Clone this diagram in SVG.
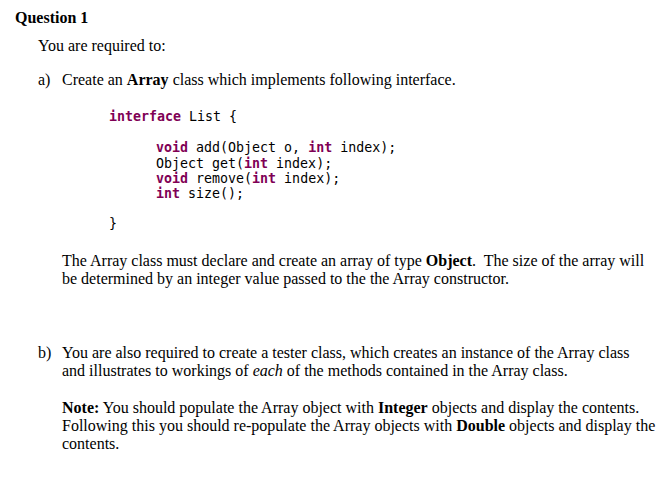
<svg xmlns="http://www.w3.org/2000/svg" width="669" height="479" viewBox="0 0 669 479">
<style>
.t{font-family:"Liberation Serif",serif;font-size:16px;fill:#000}
.c{font-family:"DejaVu Sans Mono",monospace;font-size:13.3px;fill:#000}
.k{fill:#7f0055;font-weight:bold}
</style>
<rect width="669" height="479" fill="#fff"/>
<text class="t" x="15" y="23" font-weight="bold">Question 1</text>
<text class="t" x="38" y="51">You are required to:</text>
<text class="t" x="38" y="85">a)</text>
<text class="t" x="62" y="85">Create an <tspan font-weight="bold">Array</tspan> class which implements following interface.</text>
<text class="c" x="109" y="121"><tspan class="k">interface</tspan> List {</text>
<text class="c" x="156" y="152"><tspan class="k">void</tspan> add(Object o, <tspan class="k">int</tspan> index);</text>
<text class="c" x="156" y="168">Object get(<tspan class="k">int</tspan> index);</text>
<text class="c" x="156" y="183"><tspan class="k">void</tspan> remove(<tspan class="k">int</tspan> index);</text>
<text class="c" x="156" y="198"><tspan class="k">int</tspan> size();</text>
<text class="c" x="109" y="228">}</text>
<text class="t" x="62" y="266">The Array class must declare and create an array of type <tspan font-weight="bold">Object</tspan>.&#160; The size of the array will</text>
<text class="t" x="62" y="284">be determined by an integer value passed to the the Array constructor.</text>
<text class="t" x="38" y="358">b)</text>
<text class="t" x="62" y="358">You are also required to create a tester class, which creates an instance of the Array class</text>
<text class="t" x="62" y="376">and illustrates to workings of <tspan font-style="italic">each</tspan> of the methods contained in the Array class.</text>
<text class="t" x="62" y="413"><tspan font-weight="bold">Note:</tspan> You should populate the Array object with <tspan font-weight="bold">Integer</tspan> objects and display the contents.</text>
<text class="t" x="62" y="431">Following this you should re-populate the Array objects with <tspan font-weight="bold">Double</tspan> objects and display the</text>
<text class="t" x="62" y="449">contents.</text>
</svg>
